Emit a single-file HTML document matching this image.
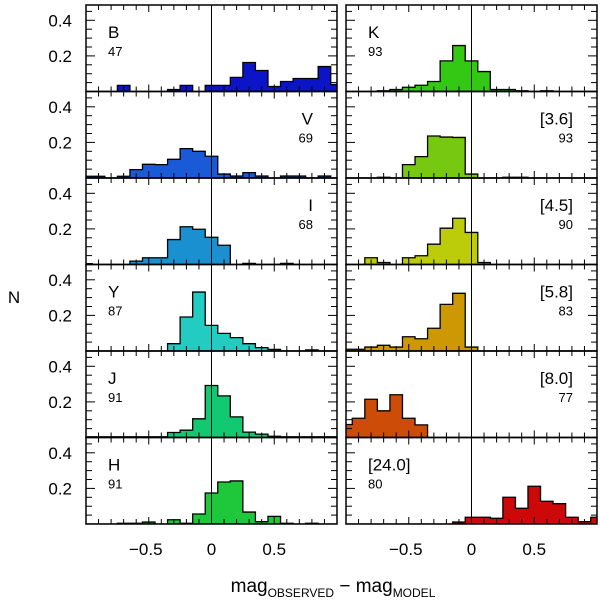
<!DOCTYPE html>
<html><head><meta charset="utf-8"><style>
html,body{margin:0;padding:0;background:#fff}
svg{display:block;font-family:"Liberation Sans",sans-serif}
</style></head><body>
<svg id="chart" width="600" height="600" viewBox="0 0 600 600">
<text x="333" y="592" font-size="19" text-anchor="middle" fill="#000">mag<tspan font-size="12" dy="5">OBSERVED</tspan><tspan dy="-5"> − mag</tspan><tspan font-size="12" dy="5">MODEL</tspan></text>
<text x="14" y="303" font-size="17" text-anchor="middle" fill="#000">N</text>
</svg>
<script>
const binCenters = [-1.0,-0.9,-0.8,-0.7,-0.6,-0.5,-0.4,-0.3,-0.2,-0.1,0.0,0.1,0.2,0.3,0.4,0.5,0.6,0.7,0.8,0.9,1.0];
const bandNames = ["B","V","I","Y","J","H","K","[3.6]","[4.5]","[5.8]","[8.0]","[24.0]"];
const bandCounts = ["47","69","68","87","91","91","93","93","90","83","77","80"];
const bandColors = ["#0c14c8","#1a5ad6","#1a90d0","#22ccc0","#12c870","#1ec83a","#33c814","#77c810","#bccc0a","#cc9905","#cc4c08","#cc0808"];
const valsB   = [0,0,0,0.034,0,0,0,0.011,0.034,0,0.034,0.034,0.079,0.163,0.118,0.028,0.056,0.073,0.073,0.14,0.039];
const valsV   = [0.01,0.01,0,0.01,0.047,0.077,0.075,0.105,0.165,0.15,0.122,0.022,0.011,0.03,0.011,0,0.011,0.011,0,0.011,0];
const valsI   = [0.005,0,0,0,0.019,0.038,0.038,0.14,0.212,0.198,0.153,0.108,0,0.006,0,0,0.006,0,0,0,0];
const valsY   = [0,0,0,0,0,0,0,0.041,0.191,0.331,0.144,0.099,0.075,0.041,0.019,0.009,0,0,0.006,0,0];
const valsJ   = [0.004,0.004,0.004,0.004,0.004,0.004,0.004,0.028,0.041,0.105,0.292,0.234,0.116,0.03,0.019,0.007,0.004,0.004,0.004,0.004,0.004];
const valsH   = [0,0,0,0.004,0.004,0.011,0,0.024,0.004,0.056,0.174,0.236,0.242,0.067,0.013,0.043,0.004,0,0.004,0,0];
const valsK   = [0,0,0,0.004,0.011,0.024,0.035,0.056,0.172,0.258,0.172,0.112,0.011,0.011,0.004,0,0.004,0,0,0,0];
const vals36  = [0,0,0,0.004,0,0.075,0.12,0.236,0.23,0.228,0.022,0,0,0.004,0.004,0,0,0,0,0,0];
const vals45  = [0,0,0.038,0.011,0,0.038,0.049,0.114,0.204,0.26,0.18,0.011,0,0,0,0,0,0,0,0,0];
const vals58  = [0.01,0.01,0.022,0.032,0.022,0.08,0.069,0.128,0.262,0.324,0.022,0,0,0,0,0,0,0,0,0,0];
const vals80  = [0.073,0.108,0.215,0.15,0.24,0.108,0.071,0,0,0,0,0,0,0,0,0,0,0,0,0,0];
const vals240 = [0,0,0,0,0,0,0,0,0,0.011,0.038,0.038,0.032,0.15,0.088,0.212,0.128,0.114,0.038,0.013,0.038];
const yTickLabels = ["0.2","0.4"];
const xTickLabels = ["−0.5","0","0.5"];
const xTickValues = [-0.5,0,0.5];

const allVals = [valsB,valsV,valsI,valsY,valsJ,valsH,valsK,vals36,vals45,vals58,vals80,vals240];
const labelRight = [false,true,true,false,false,false,false,true,true,true,true,false];
const NS = "http://www.w3.org/2000/svg";
const svg = document.getElementById("chart");
const PW = 251, PH = 86.5, TOP = 5, YS = 178, XS = 125.5;
function mk(tag, attrs, parent){const e=document.createElementNS(NS,tag);for(const k in attrs)e.setAttribute(k,attrs[k]);(parent||svg).appendChild(e);return e;}

const defs = mk("defs",{});
for (let p=0;p<12;p++){
  const col = p<6?0:1, row = p%6;
  const x0 = col===0?86:346, y0 = TOP+row*PH, base = y0+PH;
  const xs = v => x0 + PW/2 + v*XS;
  const ys = v => base - v*YS;
  const cp = mk("clipPath",{id:"cp"+p},defs);
  mk("rect",{x:x0,y:y0,width:PW,height:PH},cp);
  const g = mk("g",{"clip-path":"url(#cp"+p+")"});
  
  
  const vals = allVals[p];
  let d = "M"+xs(binCenters[0]-0.05)+","+base;
  for (let i=0;i<binCenters.length;i++){
    const v = vals[i], xa = xs(binCenters[i]-0.05), xb = xs(binCenters[i]+0.05);
    d += " L"+xa+","+ys(v)+" L"+xb+","+ys(v);
  }
  d += " L"+xs(binCenters[binCenters.length-1]+0.05)+","+base+" Z";
  const fill = mk("path",{d:d,fill:bandColors[p],stroke:"none"},g);
  
  
  const out = mk("path",{d:d,fill:"none",stroke:"#000","stroke-width":1.3},g);
  
  
  const zl = mk("line",{x1:xs(0),x2:xs(0),y1:y0,y2:base,stroke:"#000","stroke-width":1},g);
  
  
  const tg = mk("g",{stroke:"#000","stroke-width":1});
  
  
  for (let k=-9;k<=9;k++){
    const x = xs(k/10), L = (k%5===0)?7:5;
    mk("line",{x1:x,x2:x,y1:base,y2:base-L},tg);
    mk("line",{x1:x,x2:x,y1:y0,y2:y0+L},tg);
  }
  for (let k=1;k*0.05<0.48;k++){
    const y = ys(k*0.05), L = (k%4===0)?9:6;
    mk("line",{x1:x0,x2:x0+L,y1:y,y2:y},tg);
    mk("line",{x1:x0+PW,x2:x0+PW-L,y1:y,y2:y},tg);
  }
  const fr = mk("rect",{x:x0,y:y0,width:PW,height:PH,fill:"none",stroke:"#000","stroke-width":1.5});
  
  
  const lx = labelRight[p] ? x0+PW-24 : x0+22;
  const anc = labelRight[p] ? "end" : "start";
  const nm = mk("text",{x:lx,y:y0+33,"font-size":17,"text-anchor":anc,fill:"#000"});
  nm.textContent = bandNames[p];
  
  
  const ct = mk("text",{x:lx,y:y0+51,"font-size":13,"text-anchor":anc,fill:"#000"});
  ct.textContent = bandCounts[p];
  
  
  if (col===0){
    yTickLabels.forEach((t,i)=>{
      const tl = mk("text",{x:72,y:ys((i+1)*0.2)+6,"font-size":17,"text-anchor":"end",fill:"#000"});
      tl.textContent = t;
      
      
    });
  }
  if (row===5){
    xTickLabels.forEach((t,i)=>{
      const xl = mk("text",{x:xs(xTickValues[i])-(i===0?3:0),y:555,"font-size":17,"text-anchor":"middle",fill:"#000"});
      xl.textContent = t;
      
      
    });
  }
}
</script>
</body></html>
